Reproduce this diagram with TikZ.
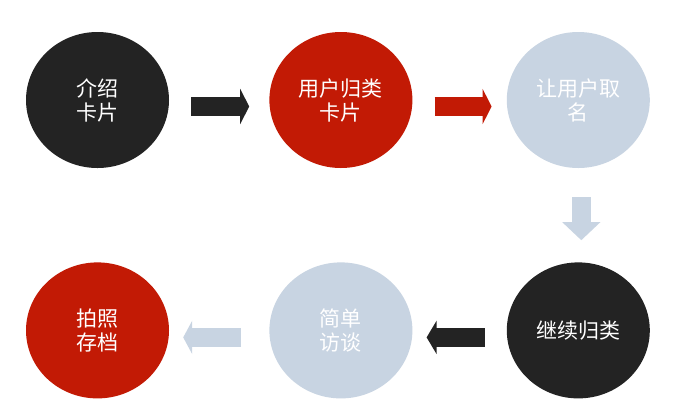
\documentclass[tikz,border=0pt]{standalone}
\usepackage{fontspec}
\newfontfamily\cjk{Noto Sans CJK SC}
\usetikzlibrary{positioning,shapes.geometric,arrows.meta}
\definecolor{inkdark}{HTML}{232323}
\definecolor{cardred}{HTML}{C21A05}
\definecolor{paleblue}{HTML}{C8D4E2}

\begin{document}
\begin{tikzpicture}[x=1pt, y=-1pt,
    bubble/.style={ellipse, minimum width=143pt, minimum height=136pt, inner sep=0pt,
        align=center, text=white, font=\cjk\fontsize{21}{24}\selectfont},
    flow/.style={line width=19pt}]

    \useasboundingbox[fill=white] (0,0) rectangle (698,416);

    \node [bubble, fill=inkdark] (intro) at (97.5,100) {介绍\\卡片};
    \node [bubble, fill=cardred, right=100pt of intro] (sort) {用户归类\\卡片};
    \node [bubble, fill=paleblue, right=94pt of sort] (name) {让用户取\\名};
    \node [bubble, fill=inkdark, below=94pt of name] (more) {继续归类};
    \node [bubble, fill=paleblue, left=94pt of more] (talk) {简单\\访谈};
    \node [bubble, fill=cardred, left=100pt of talk] (photo) {拍照\\存档};

    % block arrows between the steps
    \draw [flow, inkdark, -{Triangle[length=9pt,width=35pt]}]
        ([xshift=22pt,yshift=-6.5pt]intro.east) -- ([xshift=-20pt,yshift=-6.5pt]sort.west);
    \draw [flow, cardred, -{Triangle[length=9pt,width=35pt]}]
        ([xshift=22pt,yshift=-6.5pt]sort.east) -- ([xshift=-15pt,yshift=-6.5pt]name.west);
    \draw [flow, paleblue, -{Triangle[length=18pt,width=37pt]}]
        ([xshift=3pt,yshift=-29pt]name.south) -- ([xshift=3pt,yshift=22pt]more.north);
    \draw [flow, inkdark, -{Triangle[length=10pt,width=33pt]}]
        ([xshift=-22pt,yshift=-7pt]more.west) -- ([xshift=14pt,yshift=-7pt]talk.east);
    \draw [flow, paleblue, -{Triangle[length=9pt,width=33pt]}]
        ([xshift=-28pt,yshift=-7pt]talk.west) -- ([xshift=14pt,yshift=-7pt]photo.east);

\end{tikzpicture}
\end{document}
